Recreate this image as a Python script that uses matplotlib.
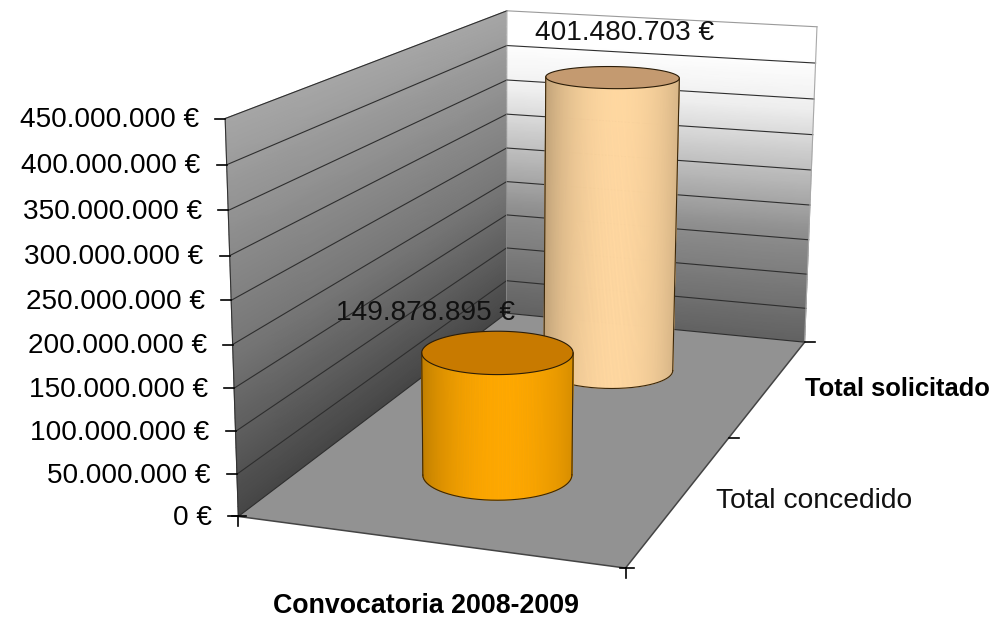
import numpy as np
import matplotlib
matplotlib.use("Agg")
import matplotlib.pyplot as plt
from matplotlib.collections import PolyCollection
from matplotlib.colors import LinearSegmentedColormap, to_rgb

plt.rcParams['font.family'] = ['Liberation Sans', 'DejaVu Sans']

# ---- data ----
series_names = ["Total concedido", "Total solicitado"]
category = "Convocatoria 2008-2009"
values = [149878895, 401480703]
value_labels = ["149.878.895 €", "401.480.703 €"]
ticks = [0, 50e6, 100e6, 150e6, 200e6, 250e6, 300e6, 350e6, 400e6, 450e6]
tick_labels = ["0 €", "50.000.000 €", "100.000.000 €", "150.000.000 €", "200.000.000 €",
               "250.000.000 €", "300.000.000 €", "350.000.000 €", "400.000.000 €", "450.000.000 €"]
zmax = 450e6

# ---- perspective calibration (model corner -> pixel) ----
model = np.array([[0, 0, 0], [0, 0, 1], [0, 1, 0], [0, 1, 1], [1, 1, 0], [1, 1, 1], [1, 0, 0]], float)
pixel = np.array([[239, 517], [225, 118], [506, 313], [507, 11], [805, 342], [817, 27], [625, 568]], float)
rows = []
for (a, b, c), (u, v) in zip(model, pixel):
    rows.append([a, b, c, 1, 0, 0, 0, 0, -u*a, -u*b, -u*c, -u])
    rows.append([0, 0, 0, 0, a, b, c, 1, -v*a, -v*b, -v*c, -v])
P = np.linalg.svd(np.array(rows))[2][-1].reshape(3, 4)


def project(x, d, val):
    x, d, val = np.broadcast_arrays(np.asarray(x, float), np.asarray(d, float), np.asarray(val, float))
    h = np.stack([x, d, val / zmax, np.ones_like(x)])
    q = np.tensordot(P, h, axes=(1, 0))
    return q[0] / q[2], q[1] / q[2]


fig = plt.figure(figsize=(9.94, 6.19), dpi=100)
ax = fig.add_axes([0, 0, 1, 1])
ax.set_xlim(0, 994)
ax.set_ylim(619, 0)
ax.axis('off')

# ---- walls ----
left_cmap = LinearSegmentedColormap.from_list("l", [(0, "#464646"), (0.45, "#787878"), (1, "#a6a6a6")])
back_cmap = LinearSegmentedColormap.from_list("b", [(0, "#626262"), (0.35, "#8e8e8e"), (0.75, "#efefef"), (0.9, "#ffffff"), (1, "#ffffff")])
zz = np.linspace(0, zmax, 40)
uu = np.array([0.0, 1.0])
U, Z = np.meshgrid(uu, zz)
X, Y = project(np.zeros_like(U), U, Z)
ax.pcolormesh(X, Y, Z / zmax, shading='gouraud', cmap=left_cmap, vmin=0, vmax=1, zorder=1)
X, Y = project(U, np.ones_like(U), Z)
ax.pcolormesh(X, Y, Z / zmax, shading='gouraud', cmap=back_cmap, vmin=0, vmax=1, zorder=1)

# floor
fx, fy = project([0, 1, 1, 0], [0, 0, 1, 1], [0, 0, 0, 0])
ax.fill(fx, fy, color="#929292", lw=0, zorder=1.5)

# gridlines
for t in ticks:
    x, y = project([0, 0, 1], [0, 1, 1], [t, t, t])
    ax.plot(x[:2], y[:2], color="#2e2e2e", lw=0.8, zorder=2)
    ax.plot(x[1:], y[1:], color="#2e2e2e" if t < 450e6 else "#9a9a9a", lw=0.8, zorder=2)
# wall edges
x, y = project([1, 1], [1, 1], [0, zmax])
ax.plot(x, y, color="#a8a8a8", lw=0.8, zorder=2)
x, y = project([0, 0], [1, 1], [0, zmax])
ax.plot(x, y, color="#8a8a8a", lw=0.6, zorder=2)

# axes
x, y = project([0, 0], [0, 0], [0, zmax])
ax.plot(x, y, color="#333333", lw=0.8, zorder=2.2)
x, y = project([0, 1, 1], [0, 0, 1], [0, 0, 0])
ax.plot(x, y, color="#444444", lw=1.1, zorder=2.2)

# value ticks and labels
for t, lab in zip(ticks, tick_labels):
    x, y = project(0, 0, t)
    ax.plot([x - 10, x], [y, y], color="black", lw=1.2, zorder=3)
    ax.text(x - 26, y + 1.5, lab, ha='right', va='center', fontsize=20.2, color="black", zorder=5)

# category ticks
for c in [0, 1]:
    x, y = project(c, 0, 0)
    ax.plot([x, x], [y, y + 10], color="black", lw=1.2, zorder=3)
    ax.plot([x - 6, x + 8], [y, y], color="black", lw=1.2, zorder=3)
# depth ticks
for d in [0.5, 1.0]:
    x, y = project(1, d, 0)
    ax.plot([x, x + 10], [y, y], color="black", lw=1.2, zorder=3)


# ---- cylinders ----
def shade(base, t):
    base = np.array(to_rgb(base))
    f = 0.74 + 0.26 * np.clip(1 - ((t - 0.55) / 0.55) ** 2, 0, 1) ** 0.8
    return tuple(np.clip(base * f, 0, 1))


def cylinder(depth, value, side, top, z):
    rx, rd = 0.195, 0.098
    th = np.linspace(0, 2 * np.pi, 361)
    cx, cd = 0.5 + rx * np.cos(th), depth + rd * np.sin(th)
    bx, by = project(cx, cd, 0 * th)
    tx, ty = project(cx, cd, value + 0 * th)
    i0, i1 = int(np.argmin(bx[:-1])), int(np.argmax(bx[:-1]))
    a, b = sorted([i0, i1])
    arc1, arc2 = np.arange(a, b + 1), np.r_[np.arange(b, 360), np.arange(0, a + 1)]
    arc = arc1 if by[arc1].mean() > by[arc2].mean() else arc2
    quads, cols = [], []
    for j in range(len(arc) - 1):
        p, q = arc[j], arc[j + 1]
        quads.append([(bx[p], by[p]), (bx[q], by[q]), (tx[q], ty[q]), (tx[p], ty[p])])
        cols.append(shade(side, ((bx[p] + bx[q]) / 2 - bx[i0]) / (bx[i1] - bx[i0])))
    ax.add_collection(PolyCollection(quads, facecolors=cols, edgecolors=cols, linewidths=0.6, zorder=z))
    ax.fill(tx, ty, facecolor=top, edgecolor="#2a1c08", lw=0.8, zorder=z + 0.1)
    ax.plot(bx[arc], by[arc], color="#3a2608", lw=0.8, zorder=z + 0.1)
    ax.plot([bx[i0], tx[i0]], [by[i0], ty[i0]], color="#3a2608", lw=0.8, zorder=z + 0.1)
    ax.plot([bx[i1], tx[i1]], [by[i1], ty[i1]], color="#3a2608", lw=0.8, zorder=z + 0.1)


cylinder(0.755, values[1], "#FFD7A0", "#C49A70", 3.2)
cylinder(0.255, values[0], "#FFA800", "#C87A00", 3.6)

# ---- texts ----
ax.text(625, 33.5, value_labels[1], ha='center', va='center', fontsize=20.2, color="#111111", zorder=6)
ax.text(425, 313.5, value_labels[0], ha='center', va='center', fontsize=20.2, color="#111111", zorder=6)
ax.text(897.5, 389, series_names[1], ha='center', va='center', fontsize=18.4, fontweight='bold', color="black", zorder=6)
ax.text(814, 500.5, series_names[0], ha='center', va='center', fontsize=20.3, color="#111111", zorder=6)
ax.text(426, 606, category, ha='center', va='center', fontsize=19.3, fontweight='bold', color="black", zorder=6)

fig.savefig("out.png", dpi=100)
